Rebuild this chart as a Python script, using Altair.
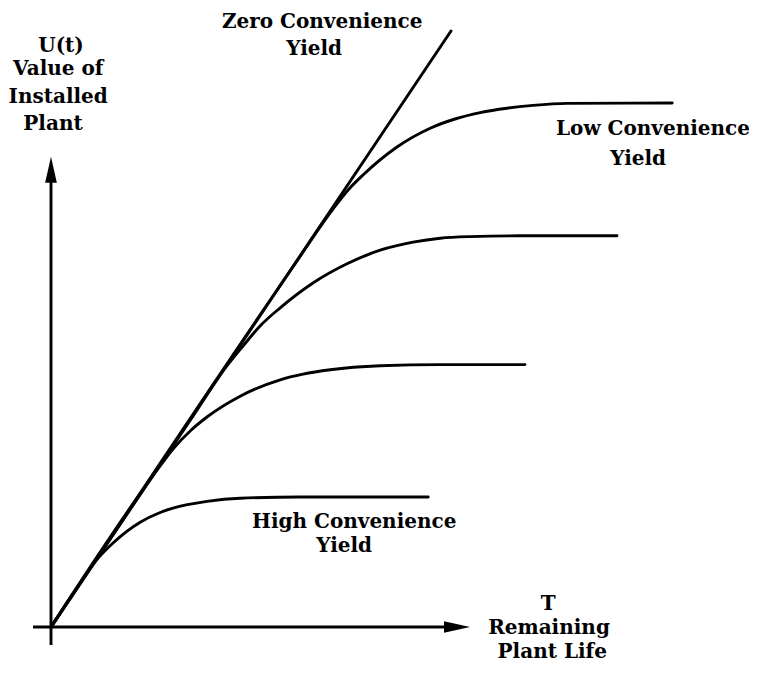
import altair as alt
import pandas as pd

# ---- data (T = remaining plant life, U = value of installed plant) ----
zero_t = [0.0, 10.0]
zero_u = [0.0, 14.9]

low_t = [0.0, 6.0, 7.05, 7.45, 7.8, 8.65, 9.48, 10.1, 10.73, 11.4, 12.05, 12.9, 15.53]
low_u = [0.0, 8.93, 10.45, 10.95, 11.3, 12.0, 12.47, 12.7, 12.86, 12.97, 13.04, 13.09, 13.1]

mid_t = [0.0, 3.5, 4.3, 4.78, 5.25, 5.73, 6.55, 7.4, 8.23, 9.05, 9.73, 10.48, 11.73, 14.15]
mid_u = [0.0, 5.2, 6.4, 7.0, 7.55, 7.98, 8.6, 9.08, 9.42, 9.62, 9.72, 9.76, 9.78, 9.78]

third_t = [0.0, 2.6, 3.05, 3.5, 3.9, 4.73, 5.73, 6.3, 6.98, 8.23, 9.73, 11.85]
third_u = [0.0, 3.85, 4.45, 4.92, 5.25, 5.77, 6.18, 6.32, 6.43, 6.53, 6.56, 6.56]

high_t = [0.0, 0.55, 1.1, 1.55, 2.23, 2.7, 3.05, 3.9, 4.73, 6.23, 9.43]
high_u = [0.0, 0.83, 1.63, 2.1, 2.62, 2.85, 2.97, 3.14, 3.22, 3.25, 3.25]

# axes (schematic arrows)
xaxis_t = [-0.45, 10.2]
xaxis_u = [0.0, 0.0]
yaxis_t = [0.0, 0.0]
yaxis_u = [-0.45, 11.5]
xhead = (10.15, 0.0)
yhead = (0.0, 11.43)

labels = ["Zero Convenience", "Yield", "Low Convenience", "Yield",
          "High Convenience", "Yield", "U(t)", "Value of", "Installed",
          "Plant", "T", "Remaining", "Plant Life"]
label_t = [6.78, 6.58, 15.05, 14.68, 7.58, 7.33, 0.25, 0.18, 0.18, 0.05,
           12.43, 12.45, 12.53]
label_u = [14.98, 14.3, 12.3, 11.55, 2.48, 1.88, 14.38, 13.8, 13.1, 12.43,
           0.425, -0.175, -0.775]

# ---- build tables ----
rows = []
for name, ts, us in [("zero", zero_t, zero_u), ("low", low_t, low_u),
                     ("mid", mid_t, mid_u), ("third", third_t, third_u),
                     ("high", high_t, high_u)]:
    for i, (t, u) in enumerate(zip(ts, us)):
        rows.append({"series": name, "T": t, "U": u, "o": i})
curves = pd.DataFrame(rows)

arows = []
for name, ts, us in [("xaxis", xaxis_t, xaxis_u), ("yaxis", yaxis_t, yaxis_u)]:
    for i, (t, u) in enumerate(zip(ts, us)):
        arows.append({"series": name, "T": t, "U": u, "o": i})
axes_df = pd.DataFrame(arows)

text_df = pd.DataFrame({"label": labels, "T": label_t, "U": label_u})

xs = alt.Scale(domain=[-1.075, 17.45], nice=False, zero=False)
ys = alt.Scale(domain=[-0.975, 15.475], nice=False, zero=False)

X = alt.X("T:Q", scale=xs, axis=None)
Y = alt.Y("U:Q", scale=ys, axis=None)

curve_layer = alt.Chart(curves).mark_line(
    color="black", strokeWidth=2.9, interpolate="monotone", strokeCap="round",
    strokeJoin="round", clip=False
).encode(x=X, y=Y, detail="series:N", order="o:Q")

axis_layer = alt.Chart(axes_df).mark_line(
    color="black", strokeWidth=2.9, clip=False
).encode(x=X, y=Y, detail="series:N", order="o:Q")

xhead_layer = alt.Chart(pd.DataFrame({"T": [xhead[0]], "U": [xhead[1]]})).mark_point(
    shape="M -1 -0.45 L 1 0 L -1 0.45 Z", filled=True, color="black",
    size=676, opacity=1, clip=False
).encode(x=X, y=Y)

yhead_layer = alt.Chart(pd.DataFrame({"T": [yhead[0]], "U": [yhead[1]]})).mark_point(
    shape="M -0.45 1 L 0 -1 L 0.45 1 Z", filled=True, color="black",
    size=676, opacity=1, clip=False
).encode(x=X, y=Y)

text_layer = alt.Chart(text_df).mark_text(
    font="DejaVu Serif", fontWeight="bold", fontSize=20, color="black",
    align="center", baseline="alphabetic", clip=False
).encode(x=X, y=Y, text="label:N")

chart = alt.layer(axis_layer, xhead_layer, yhead_layer, curve_layer, text_layer).properties(
    width=741, height=658, padding=0, autosize="none", background="white"
).configure_view(strokeWidth=0)

chart.save("out.html", embed_options={"renderer": "svg", "actions": False})
